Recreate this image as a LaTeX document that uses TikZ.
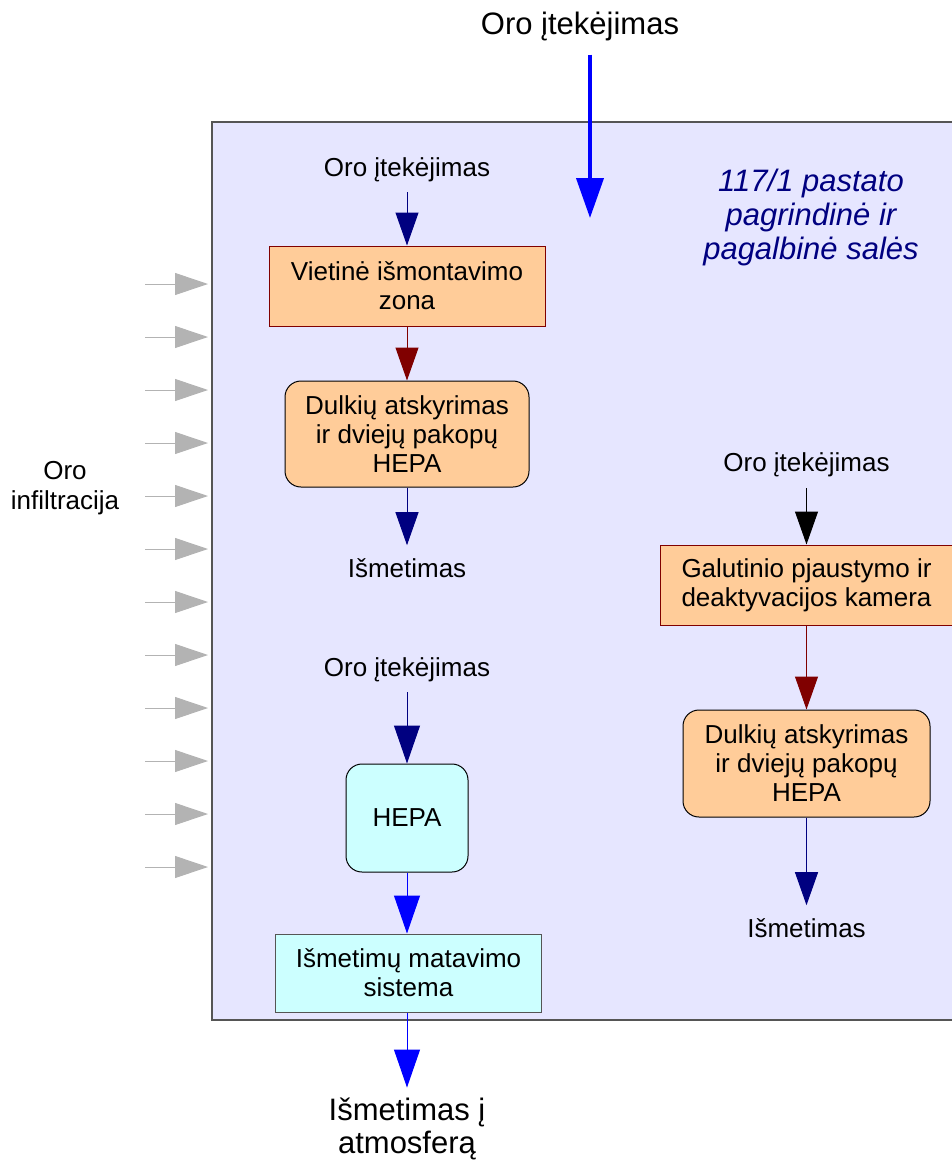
\documentclass[tikz,border=0pt]{standalone}
\usepackage{fontspec}
\setmainfont{Liberation Sans}
\usetikzlibrary{arrows.meta}
\definecolor{lav}{HTML}{E6E6FF}
\definecolor{peach}{HTML}{FFCC99}
\definecolor{cyanl}{HTML}{CCFFFF}
\definecolor{navyc}{HTML}{000080}
\definecolor{dred}{HTML}{800000}
\definecolor{bluec}{HTML}{0000FF}
\definecolor{grayc}{HTML}{B3B3B3}
\definecolor{edgec}{HTML}{555555}
\tikzset{
  txt/.style={font=\fontsize{26}{29.5}\selectfont, align=center, inner sep=2pt},
  bigtxt/.style={font=\fontsize{31}{33.5}\selectfont, align=center, inner sep=2pt},
  sqbox/.style={draw, line width=1pt, align=center, inner sep=0pt, font=\fontsize{26}{29}\selectfont},
  rdbox/.style={sqbox, draw=black, rounded corners=16pt},
  flow/.style={line width=1pt, -{Triangle[length=33pt,width=23pt]}},
  flowbig/.style={line width=1pt, -{Triangle[length=38pt,width=26pt]}},
  infl/.style={draw=grayc, line width=1pt, -{Triangle[length=33pt,width=22pt]}, grayc}
}
\begin{document}
\begin{tikzpicture}[x=1pt,y=-1pt]
\useasboundingbox (0,0) rectangle (952,1162);
\clip (0,0) rectangle (952,1162);
% room
\path[fill=lav, draw=edgec, line width=1.5pt] (212,122) rectangle (970,1020);
% titles
\node[bigtxt] (title) at (580,26) {Oro įtekėjimas};
\coordinate (topend) at (590,218);
\node[bigtxt, text=navyc, font=\fontsize{31}{34}\selectfont\itshape] (hall) at (811,217) {117/1 pastato\\pagrindinė ir\\pagalbinė salės};
\node[txt] (infil) at (65,488) {Oro\\infiltracija};
% left column
\node[txt] (in1) at (407,170) {Oro įtekėjimas};
\node[sqbox, draw=dred, fill=peach, minimum width=276pt, minimum height=80pt] (b1) at (407,286) {Vietinė išmontavimo\\zona};
\node[rdbox, fill=peach, minimum width=244pt, minimum height=106pt] (b2) at (407,434) {Dulkių atskyrimas\\ir dviejų pakopų\\HEPA};
\node[txt] (ex1) at (407,568) {Išmetimas};
\node[txt] (in2) at (407,670) {Oro įtekėjimas};
\node[rdbox, fill=cyanl, minimum width=122pt, minimum height=108pt] (hepa) at (407,818) {HEPA};
\node[sqbox, draw=edgec, fill=cyanl, minimum width=266pt, minimum height=78pt] (meas) at (408.5,973) {Išmetimų matavimo\\sistema};
\node[txt, font=\fontsize{31}{33.5}\selectfont] (atm) at (407,1129) {Išmetimas į\\atmosferą};
% right column
\node[txt] (in3) at (806.5,465) {Oro įtekėjimas};
\node[sqbox, draw=dred, fill=peach, minimum width=293pt, minimum height=80pt] (gal) at (806.5,585) {Galutinio pjaustymo ir\\deaktyvacijos kamera};
\node[rdbox, fill=peach, minimum width=247pt, minimum height=107pt] (b3) at (806.5,763.5) {Dulkių atskyrimas\\ir dviejų pakopų\\HEPA};
\node[txt] (ex2) at (806.5,928) {Išmetimas};
% connectors
\draw[bluec, line width=4pt, -{Triangle[length=40pt,width=27pt]}, shorten <=12pt] (title.south -| topend) -- (topend);
\draw[flow, navyc, shorten <=8pt] (in1.south) -- (b1.north);
\draw[flow, dred] (b1.south) -- (b2.north);
\draw[flow, navyc, shorten >=11pt] (b2.south) -- (ex1.north);
\draw[flowbig, navyc, shorten <=8pt] (in2.south) -- (hepa.north);
\draw[flowbig, bluec] (hepa.south) -- (hepa.south |- meas.north);
\draw[flowbig, bluec, shorten >=8pt] (hepa.south |- meas.south) -- (atm.north);
\draw[flow, black, shorten <=9pt] (in3.south) -- (gal.north);
\draw[flow, dred] (gal.south) -- (b3.north);
\draw[flow, navyc, shorten >=11pt] (b3.south) -- (ex2.north);
% infiltration arrows
\foreach \i in {0,...,11}{
  \draw[infl] (145,284+53*\i) -- (208,284+53*\i);
}
\end{tikzpicture}
\end{document}
